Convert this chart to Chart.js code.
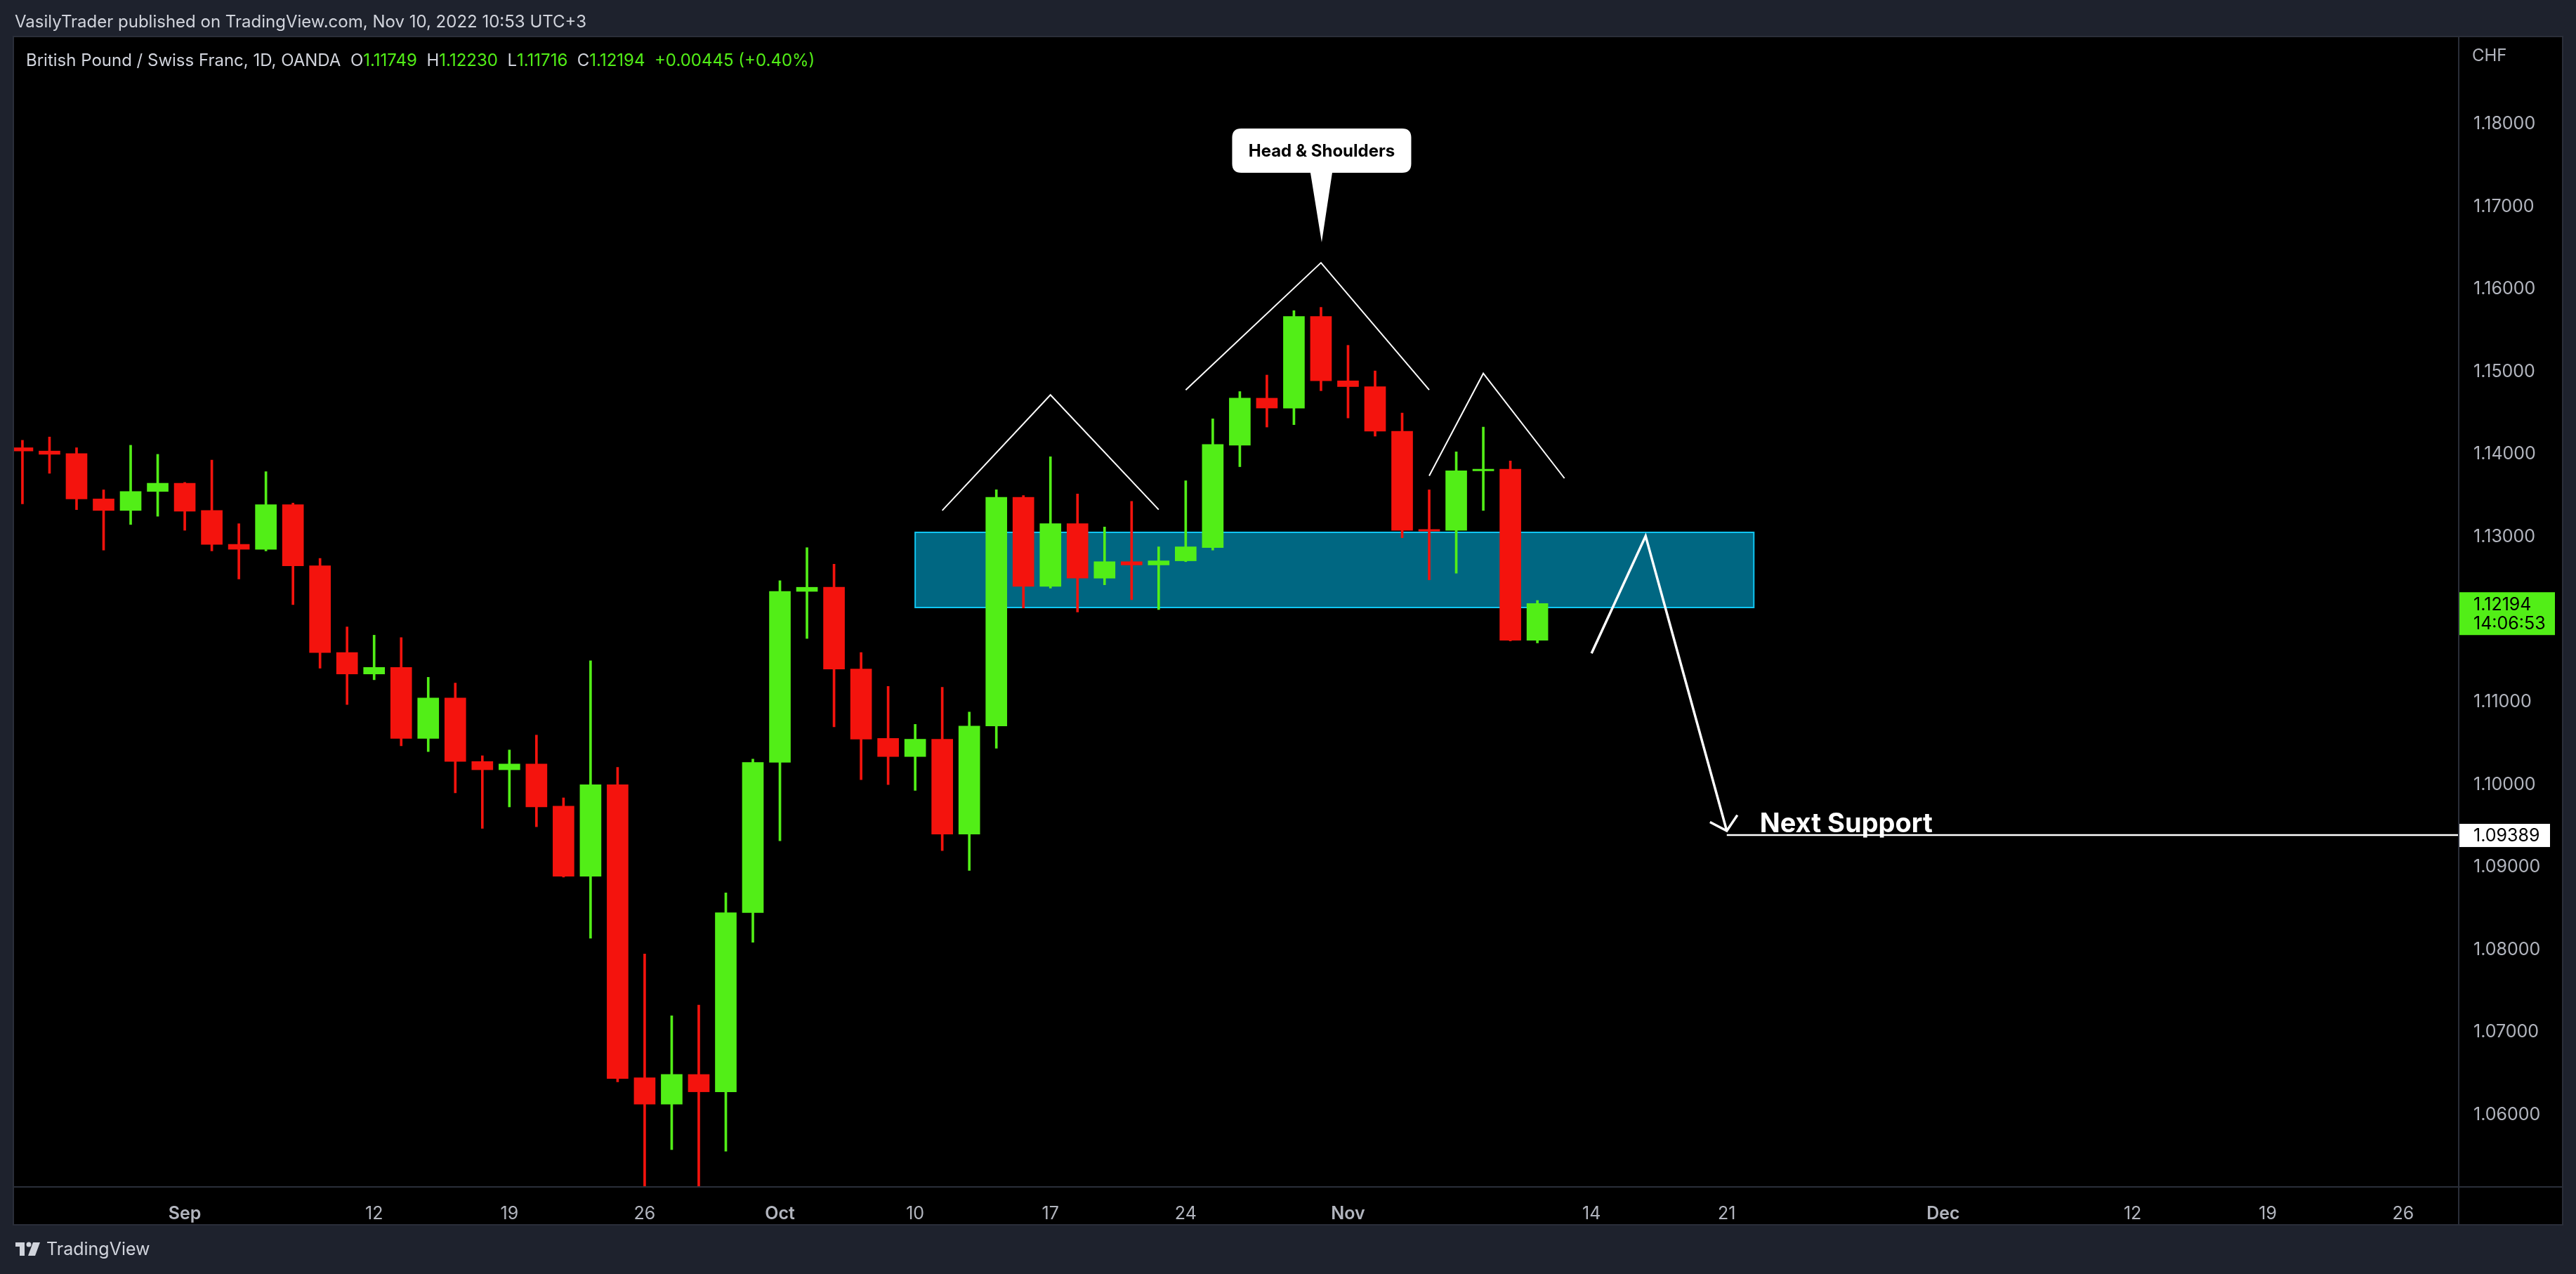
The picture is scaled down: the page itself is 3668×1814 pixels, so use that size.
<!DOCTYPE html>
<html>
<head>
<meta charset="utf-8">
<title>GBP/CHF 1D - Head &amp; Shoulders</title>
<script src="https://cdn.jsdelivr.net/npm/chart.js@4.4.1/dist/chart.umd.min.js"></script>
<style>
  html, body { margin: 0; padding: 0; background: #1e222d; }
  #wrap { width: 3668px; height: 1814px; }
</style>
</head>
<body>
<div id="wrap"><canvas id="chart" width="3668" height="1814"></canvas></div>
<script>
// GBP/CHF daily candles (OANDA), 24 Aug -> 10 Nov 2022, x = trading day index
const dates = ['Aug 24','Aug 25','Aug 26','Aug 29','Aug 30','Aug 31','Sep 1','Sep 2','Sep 5','Sep 6',
  'Sep 7','Sep 8','Sep 9','Sep 12','Sep 13','Sep 14','Sep 15','Sep 16','Sep 19','Sep 20',
  'Sep 21','Sep 22','Sep 23','Sep 26','Sep 27','Sep 28','Sep 29','Sep 30','Oct 3','Oct 4',
  'Oct 5','Oct 6','Oct 7','Oct 10','Oct 11','Oct 12','Oct 13','Oct 14','Oct 17','Oct 18',
  'Oct 19','Oct 20','Oct 21','Oct 24','Oct 25','Oct 26','Oct 27','Oct 28','Oct 31','Nov 1',
  'Nov 2','Nov 3','Nov 4','Nov 7','Nov 8','Nov 9','Nov 10'];
const opens = [1.1408,1.1404,1.1401,1.1346,1.1332,1.1355,1.1365,1.1332,1.1291,1.1285,
  1.1339,1.1265,1.1160,1.1134,1.1142,1.1056,1.1105,1.1028,1.1018,1.1025,
  1.0974,1.0889,1.1000,1.0645,1.0613,1.0649,1.0628,1.0845,1.1027,1.1234,
  1.1239,1.1140,1.1056,1.1034,1.1055,1.0940,1.1071,1.1348,1.1240,1.1316,
  1.1250,1.1270,1.1266,1.1271,1.1287,1.1411,1.1468,1.1456,1.1567,1.1489,
  1.1482,1.1428,1.1309,1.1308,1.1380,1.1382,1.11749];
const highs = [1.1417,1.1421,1.1408,1.1357,1.1411,1.1400,1.1366,1.1393,1.1316,1.1379,
  1.1341,1.1274,1.1191,1.1181,1.1178,1.1130,1.1123,1.1035,1.1042,1.1060,
  1.0984,1.1150,1.1021,1.0795,1.0720,1.0733,1.0869,1.1031,1.1247,1.1287,
  1.1267,1.1160,1.1119,1.1073,1.1118,1.1088,1.1357,1.1350,1.1397,1.1352,
  1.1312,1.1343,1.1288,1.1368,1.1443,1.1476,1.1496,1.1574,1.1578,1.1532,
  1.1501,1.1450,1.1357,1.1403,1.1433,1.1392,1.12230];
const lows = [1.1340,1.1377,1.1333,1.1284,1.1315,1.1325,1.1308,1.1283,1.1249,1.1283,
  1.1218,1.1141,1.1097,1.1127,1.1047,1.1040,1.0990,1.0947,1.0973,1.0949,
  1.0888,1.0814,1.0640,1.0500,1.0558,1.0505,1.0556,1.0809,1.0932,1.1177,
  1.1070,1.1006,1.1000,1.0993,1.0920,1.0896,1.1044,1.1214,1.1238,1.1209,
  1.1242,1.1224,1.1212,1.1270,1.1284,1.1385,1.1433,1.1436,1.1477,1.1444,
  1.1422,1.1299,1.1248,1.1256,1.1332,1.1174,1.11716];
const closes = [1.1404,1.1400,1.1346,1.1332,1.1355,1.1365,1.1331,1.1291,1.1285,1.1339,
  1.1265,1.1160,1.1134,1.1142,1.1056,1.1105,1.1028,1.1018,1.1025,1.0973,
  1.0889,1.1000,1.0644,1.0613,1.0649,1.0628,1.0845,1.1027,1.1234,1.1239,
  1.1140,1.1055,1.1034,1.1055,1.0940,1.1071,1.1348,1.1240,1.1316,1.1250,
  1.1270,1.1266,1.1271,1.1288,1.1412,1.1468,1.1456,1.1567,1.1489,1.1482,
  1.1428,1.1308,1.1307,1.1380,1.1382,1.11749,1.12194];

// time axis (trading day index -> label)
const xTickIdx = [6, 13, 18, 23, 28, 33, 38, 43, 49, 58, 63, 71, 78, 83, 88];
const xTickLabels = ['Sep','12','19','26','Oct','10','17','24','Nov','14','21','Dec','12','19','26'];
const yTicks = [1.06, 1.07, 1.08, 1.09, 1.10, 1.11, 1.12, 1.13, 1.14, 1.15, 1.16, 1.17, 1.18];

// drawings
const leftShoulder = [[34, 1.1332], [38, 1.1472], [42, 1.1333]];
const headLine = [[43, 1.1478], [48, 1.1632], [52, 1.1478]];
const rightShoulder = [[52, 1.1374], [54, 1.1498], [57, 1.1371]];
const arrowPath = [[58, 1.1159], [60, 1.1301], [63, 1.0944]];
const zoneX = [33, 64];
const zoneY = [1.12145, 1.13055];
const supportLevel = 1.09389;
const supportFrom = 63;

const UP = '#52ee17';
const DOWN = '#f4130d';
const AXIS_TXT = '#b2b5be';
const FONT = 'Inter, "Noto Sans", sans-serif';

const candleColors = closes.map((c, i) => c >= opens[i] ? UP : DOWN);
const bodies = closes.map((c, i) => ({ x: i, y: [Math.min(opens[i], c), Math.max(opens[i], c)] }));
const wicks = closes.map((c, i) => ({ x: i, y: [lows[i], highs[i]] }));
const toXY = arr => arr.map(p => ({ x: p[0], y: p[1] }));

function lineSet(points, width) {
    return {
        type: 'line',
        data: toXY(points),
        borderColor: '#ffffff',
        borderWidth: width,
        pointRadius: 0,
        tension: 0,
        fill: false,
        order: 0
    };
}

const frame = {
    id: 'frame',
    beforeDraw(chart) {
        const c = chart.ctx, a = chart.chartArea;
        const right = chart.scales.y.right, bottom = chart.scales.x.bottom;
        c.save();
        c.fillStyle = '#1e222d';
        c.fillRect(0, 0, chart.width, chart.height);
        c.fillStyle = '#000000';
        c.fillRect(a.left, a.top, right - a.left, bottom - a.top);
        c.strokeStyle = '#2a2e39';
        c.lineWidth = 2;
        c.strokeRect(a.left - 1, a.top - 1, right - a.left + 2, bottom - a.top + 2);
        c.beginPath();
        c.moveTo(a.right + 1, a.top); c.lineTo(a.right + 1, bottom);
        c.moveTo(a.left, a.bottom + 1); c.lineTo(right, a.bottom + 1);
        c.stroke();
        c.restore();
    },
    beforeDatasetsDraw(chart) {
        // blue resistance / support zone
        const c = chart.ctx, xs = chart.scales.x, ys = chart.scales.y;
        const x1 = xs.getPixelForValue(zoneX[0]), x2 = xs.getPixelForValue(zoneX[1]);
        const y1 = ys.getPixelForValue(zoneY[1]), y2 = ys.getPixelForValue(zoneY[0]);
        c.save();
        c.fillStyle = '#006782';
        c.fillRect(x1, y1, x2 - x1, y2 - y1);
        c.strokeStyle = '#10c6f3';
        c.lineWidth = 2;
        c.strokeRect(x1, y1, x2 - x1, y2 - y1);
        c.restore();
    },
    afterDatasetsDraw(chart) {
        const c = chart.ctx, xs = chart.scales.x, ys = chart.scales.y, a = chart.chartArea;
        c.save();

        // arrow head
        const p1 = arrowPath[arrowPath.length - 2], p2 = arrowPath[arrowPath.length - 1];
        const tx = xs.getPixelForValue(p2[0]), ty = ys.getPixelForValue(p2[1]);
        const ang = Math.atan2(ty - ys.getPixelForValue(p1[1]), tx - xs.getPixelForValue(p1[0]));
        c.strokeStyle = '#ffffff';
        c.lineWidth = 3.5;
        c.beginPath();
        c.moveTo(tx + 27 * Math.cos(ang + Math.PI - 0.82), ty + 27 * Math.sin(ang + Math.PI - 0.82));
        c.lineTo(tx, ty);
        c.lineTo(tx + 27 * Math.cos(ang + Math.PI + 0.86), ty + 27 * Math.sin(ang + Math.PI + 0.86));
        c.stroke();

        // "Next Support" text
        const sx = xs.getPixelForValue(supportFrom), sy = ys.getPixelForValue(supportLevel);
        c.fillStyle = '#ffffff';
        c.font = 'bold 38px ' + FONT;
        c.textAlign = 'left';
        c.textBaseline = 'alphabetic';
        c.fillText('Next Support', sx + 47, sy - 4);

        // Head & Shoulders callout
        const hx = xs.getPixelForValue(headLine[1][0]), hy = ys.getPixelForValue(headLine[1][1]);
        const bw = 255, bh = 63, r = 13;
        const bx = hx - bw / 2 + 1, by = hy - 191;
        c.fillStyle = '#ffffff';
        c.beginPath();
        c.moveTo(bx + r, by);
        c.lineTo(bx + bw - r, by); c.quadraticCurveTo(bx + bw, by, bx + bw, by + r);
        c.lineTo(bx + bw, by + bh - r); c.quadraticCurveTo(bx + bw, by + bh, bx + bw - r, by + bh);
        c.lineTo(hx + 16, by + bh); c.lineTo(hx + 1, hy - 29); c.lineTo(hx - 15, by + bh);
        c.lineTo(bx + r, by + bh); c.quadraticCurveTo(bx, by + bh, bx, by + bh - r);
        c.lineTo(bx, by + r); c.quadraticCurveTo(bx, by, bx + r, by);
        c.closePath();
        c.fill();
        c.fillStyle = '#000000';
        c.font = 'bold 24px ' + FONT;
        c.textAlign = 'center';
        c.textBaseline = 'middle';
        c.fillText('Head & Shoulders', bx + bw / 2, by + bh / 2 + 1);

        // price axis tags
        const last = closes.length - 1;
        const ly = ys.getPixelForValue(closes[last]);
        c.fillStyle = UP;
        c.fillRect(a.right + 2, ly - 16, 136, 61);
        c.fillStyle = '#000000';
        c.textAlign = 'left';
        c.font = '25px ' + FONT;
        c.fillText(closes[last].toFixed(5), a.right + 22, ly + 2);
        c.fillText('14:06:53', a.right + 22, ly + 29);

        c.fillStyle = '#ffffff';
        c.fillRect(a.right + 2, sy - 16, 129, 33);
        c.fillStyle = '#000000';
        c.fillText(supportLevel.toFixed(5), a.right + 22, sy + 1);

        c.fillStyle = AXIS_TXT;
        c.font = '24px ' + FONT;
        c.fillText('CHF', a.right + 20, 80);

        // header
        c.fillStyle = '#d1d4dc';
        c.font = '24px ' + FONT;
        c.fillText('VasilyTrader published on TradingView.com, Nov 10, 2022 10:53 UTC+3', 21, 32);

        const chg = closes[last] - closes[last - 1];
        const pct = chg / closes[last - 1] * 100;
        const parts = [
            ['British Pound / Swiss Franc, 1D, OANDA  ', '#d1d4dc'],
            ['O', '#d1d4dc'], [opens[last].toFixed(5) + '  ', UP],
            ['H', '#d1d4dc'], [highs[last].toFixed(5) + '  ', UP],
            ['L', '#d1d4dc'], [lows[last].toFixed(5) + '  ', UP],
            ['C', '#d1d4dc'], [closes[last].toFixed(5) + '  ', UP],
            ['+' + chg.toFixed(5) + ' (+' + pct.toFixed(2) + '%)', UP]
        ];
        let px = 37;
        c.font = '24px ' + FONT;
        parts.forEach(([t, col]) => {
            c.fillStyle = col;
            c.fillText(t, px, 87);
            px += c.measureText(t).width;
        });

        // footer logo
        c.fillStyle = '#d1d4dc';
        c.fillRect(22, 1769, 13, 6);
        c.fillRect(28, 1769, 7, 19);
        c.beginPath(); c.arc(41, 1772, 3.5, 0, Math.PI * 2); c.fill();
        c.beginPath();
        c.moveTo(47, 1769); c.lineTo(57, 1769); c.lineTo(50, 1788); c.lineTo(40, 1788);
        c.closePath(); c.fill();
        c.font = '25px ' + FONT;
        c.fillText('TradingView', 66, 1779);

        c.restore();
    }
};

const ctx = document.getElementById('chart').getContext('2d');
new Chart(ctx, {
    type: 'bar',
    data: {
        labels: dates,
        datasets: [
            {
                label: 'body',
                data: bodies,
                backgroundColor: candleColors,
                borderWidth: 0,
                barThickness: 30,
                minBarLength: 2,
                grouped: false,
                order: 1
            },
            {
                label: 'wick',
                data: wicks,
                backgroundColor: candleColors,
                borderWidth: 0,
                barThickness: 3,
                grouped: false,
                order: 2
            },
            lineSet(leftShoulder, 2),
            lineSet(headLine, 2),
            lineSet(rightShoulder, 2),
            lineSet(arrowPath, 3.5),
            lineSet([[supportFrom, supportLevel], [95, supportLevel]], 2.5)
        ]
    },
    options: {
        responsive: false,
        devicePixelRatio: 1,
        animation: false,
        events: [],
        layout: { padding: { left: 20, top: 53, right: 20, bottom: 71 } },
        plugins: {
            legend: { display: false },
            tooltip: { enabled: false }
        },
        scales: {
            x: {
                type: 'linear',
                offset: false,
                min: -0.31,
                max: 90.03,
                grid: { display: false, offset: false },
                border: { display: false },
                afterBuildTicks: scale => { scale.ticks = xTickIdx.map(v => ({ value: v })); },
                afterFit: scale => { scale.height = 54; },
                ticks: {
                    autoSkip: false,
                    maxRotation: 0,
                    padding: 16,
                    color: AXIS_TXT,
                    font: c => ({
                        family: FONT,
                        size: 25,
                        weight: /^\d/.test(xTickLabels[c.index] || '1') ? 'normal' : '600'
                    }),
                    callback: v => {
                        const k = xTickIdx.indexOf(v);
                        return k >= 0 ? xTickLabels[k] : '';
                    }
                }
            },
            y: {
                position: 'right',
                min: 1.05137,
                max: 1.19051,
                grid: { display: false, drawTicks: false },
                border: { display: false },
                afterBuildTicks: scale => { scale.ticks = yTicks.map(v => ({ value: v })); },
                afterFit: scale => { scale.width = 148; },
                ticks: {
                    padding: 22,
                    color: AXIS_TXT,
                    font: { family: FONT, size: 25 },
                    callback: v => v.toFixed(5)
                }
            }
        }
    },
    plugins: [frame]
});
</script>
</body>
</html>
